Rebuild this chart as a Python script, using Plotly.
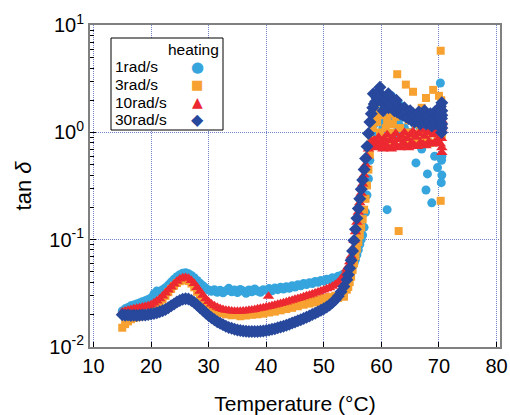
import plotly.graph_objects as go

# ---------------- data ----------------
temps_lo = [15.0, 15.5, 16.0, 16.5, 17.0, 17.5, 18.0, 18.5, 19.0, 19.5,
            20.0, 20.5, 21.0, 21.5, 22.0, 22.5, 23.0, 23.5, 24.0, 24.5,
            25.0, 25.5, 26.0, 26.5, 27.0, 27.5, 28.0, 28.5, 29.0, 29.5,
            30.0, 30.5, 31.0, 31.5, 32.0, 32.5, 33.0, 33.5, 34.0, 34.5,
            35.0, 35.5, 36.0, 36.5, 37.0, 37.5, 38.0, 38.5, 39.0, 39.5,
            40.0, 40.5, 41.0, 41.5, 42.0, 42.5, 43.0, 43.5, 44.0, 44.5,
            45.0, 45.5, 46.0, 46.5, 47.0, 47.5, 48.0, 48.5, 49.0, 49.5,
            50.0, 50.5, 51.0, 51.5, 52.0, 52.5, 53.0, 53.5, 54.0]
temps_hi = [54.25, 54.5, 54.75, 55.0, 55.25, 55.5, 55.75, 56.0, 56.25, 56.5,
            56.75, 57.0, 57.25, 57.5, 57.75, 58.0, 58.25, 58.5, 58.75, 59.0,
            59.25, 59.5, 59.75, 60.0, 60.25, 60.5, 60.75, 61.0, 61.25, 61.5,
            61.75, 62.0, 62.25, 62.5, 62.75, 63.0, 63.25, 63.5, 63.75, 64.0,
            64.25, 64.5, 64.75, 65.0, 65.25, 65.5, 65.75, 66.0, 66.25, 66.5,
            66.75, 67.0, 67.25, 67.5, 67.75, 68.0, 68.25, 68.5, 68.75, 69.0,
            69.25, 69.5, 69.75, 70.0, 70.25, 70.5]

tan_1rad_lo = [0.0215, 0.0225, 0.0232, 0.0240, 0.0245, 0.0250, 0.0255, 0.0262, 0.0268, 0.0275,
               0.0285, 0.0310, 0.0330, 0.0325, 0.0340, 0.0355, 0.0375, 0.0400, 0.0425, 0.0450,
               0.0470, 0.0485, 0.0490, 0.0480, 0.0462, 0.0440, 0.0415, 0.0390, 0.0370, 0.0352,
               0.0338, 0.0328, 0.0340, 0.0322, 0.0335, 0.0318, 0.0332, 0.0350, 0.0325, 0.0338,
               0.0320, 0.0342, 0.0330, 0.0315, 0.0338, 0.0325, 0.0345, 0.0330, 0.0322, 0.0340,
               0.0335, 0.0348, 0.0332, 0.0352, 0.0340, 0.0358, 0.0345, 0.0362, 0.0350, 0.0370,
               0.0360, 0.0378, 0.0370, 0.0388, 0.0380, 0.0395, 0.0388, 0.0405, 0.0398, 0.0415,
               0.0410, 0.0425, 0.0420, 0.0440, 0.0435, 0.0455, 0.0460, 0.0480, 0.0500]
tan_1rad_hi = [0.051, 0.052, 0.054, 0.056, 0.060, 0.065, 0.072, 0.080, 0.090, 0.100,
               0.110, 0.130, 0.180, 0.260, 0.370, 0.550, 0.750, 0.950, 1.20, 0.92,
               1.50, 2.00, 1.30, 1.80, 1.10, 1.60, 1.20, 0.19, 1.40, 1.90,
               2.20, 1.30, 1.60, 1.00, 1.50, 1.20, 1.80, 0.90, 1.40, 1.10,
               1.60, 0.85, 1.30, 1.00, 1.50, 0.80, 1.20, 0.52, 1.40, 0.90,
               1.10, 0.70, 1.30, 0.95, 0.29, 0.41, 1.20, 0.80, 0.22, 1.00,
               0.60, 1.30, 0.47, 0.90, 2.90, 0.40]
extra_1rad_t = [70.4, 70.5, 70.5, 70.45]
extra_1rad_v = [0.34, 0.60, 1.50, 0.55]

tan_3rad_lo = [0.0150, 0.0162, 0.0172, 0.0180, 0.0185, 0.0188, 0.0190, 0.0195, 0.0198, 0.0203,
               0.0210, 0.0222, 0.0238, 0.0256, 0.0276, 0.0298, 0.0322, 0.0346, 0.0370, 0.0392,
               0.0408, 0.0418, 0.0420, 0.0410, 0.0388, 0.0358, 0.0325, 0.0295, 0.0270, 0.0250,
               0.0236, 0.0226, 0.0219, 0.0214, 0.0205, 0.0212, 0.0200, 0.0208, 0.0196, 0.0206,
               0.0198, 0.0192, 0.0204, 0.0195, 0.0206, 0.0198, 0.0210, 0.0200, 0.0212, 0.0203,
               0.0222, 0.0208, 0.0220, 0.0212, 0.0226, 0.0218, 0.0232, 0.0224, 0.0238, 0.0230,
               0.0246, 0.0238, 0.0254, 0.0246, 0.0262, 0.0252, 0.0270, 0.0258, 0.0276, 0.0264,
               0.0284, 0.0272, 0.0290, 0.0278, 0.0298, 0.0285, 0.0305, 0.0292, 0.0340]
tan_3rad_hi = [0.036, 0.040, 0.045, 0.052, 0.060, 0.070, 0.082, 0.095, 0.110, 0.130,
               0.155, 0.190, 0.240, 0.320, 0.450, 0.620, 0.850, 1.10, 1.35, 1.55,
               1.25, 1.90, 1.00, 1.45, 0.90, 1.60, 1.10, 1.30, 0.85, 1.50,
               1.00, 1.20, 0.80, 1.40, 3.50, 0.12, 1.10, 0.90, 1.60, 0.75,
               2.80, 1.00, 1.30, 0.85, 1.50, 2.40, 0.95, 1.20, 0.80, 1.40,
               1.00, 1.70, 0.85, 1.20, 2.10, 0.90, 1.30, 0.80, 1.50, 2.50,
               1.00, 1.30, 0.90, 2.20, 1.40, 1.10]
extra_3rad_t = [70.3, 70.3, 70.4, 70.5, 70.5]
extra_3rad_v = [5.80, 0.23, 2.00, 1.70, 0.95]

tan_10rad_lo = [0.0210, 0.0215, 0.0218, 0.0222, 0.0225, 0.0228, 0.0231, 0.0234, 0.0237, 0.0241,
                0.0246, 0.0255, 0.0266, 0.0280, 0.0297, 0.0316, 0.0337, 0.0360, 0.0385, 0.0408,
                0.0428, 0.0440, 0.0443, 0.0435, 0.0415, 0.0388, 0.0357, 0.0328, 0.0302, 0.0280,
                0.0263, 0.0250, 0.0240, 0.0233, 0.0227, 0.0222, 0.0219, 0.0217, 0.0215, 0.0214,
                0.0214, 0.0214, 0.0215, 0.0216, 0.0218, 0.0220, 0.0222, 0.0225, 0.0228, 0.0231,
                0.0234, 0.0237, 0.0240, 0.0244, 0.0248, 0.0252, 0.0256, 0.0261, 0.0266, 0.0271,
                0.0276, 0.0281, 0.0286, 0.0292, 0.0298, 0.0304, 0.0310, 0.0317, 0.0324, 0.0331,
                0.0338, 0.0346, 0.0355, 0.0366, 0.0380, 0.0398, 0.0425, 0.0465, 0.0530]
tan_10rad_hi = [0.056, 0.062, 0.070, 0.082, 0.098, 0.118, 0.145, 0.180, 0.220, 0.270,
                0.330, 0.400, 0.500, 0.600, 0.700, 0.780, 0.820, 0.760, 0.850, 0.720,
                0.80, 0.90, 0.75, 0.82, 0.70, 0.88, 0.76, 0.95, 0.72, 0.84,
                0.70, 0.90, 0.78, 0.98, 0.74, 0.86, 0.72, 0.92, 0.80, 1.00,
                0.75, 0.88, 0.72, 0.95, 0.80, 1.02, 0.76, 0.90, 0.74, 0.98,
                0.80, 1.05, 0.78, 0.92, 0.75, 1.00, 0.82, 1.08, 0.78, 0.95,
                0.80, 1.05, 0.85, 0.98, 0.78, 1.10]
extra_10rad_t = [40.4, 70.5, 70.5, 70.45, 70.5, 70.5]
extra_10rad_v = [0.0295, 0.65, 0.72, 0.88, 1.20, 1.30]

tan_30rad_lo = [0.0198, 0.0196, 0.0197, 0.0195, 0.0196, 0.0195, 0.0196, 0.0197, 0.0197, 0.0199,
                0.0201, 0.0204, 0.0207, 0.0211, 0.0216, 0.0222, 0.0230, 0.0240, 0.0250, 0.0261,
                0.0270, 0.0277, 0.0280, 0.0278, 0.0270, 0.0258, 0.0245, 0.0231, 0.0218, 0.0206,
                0.0195, 0.0186, 0.0178, 0.0171, 0.0165, 0.0160, 0.0155, 0.0151, 0.0148, 0.0145,
                0.0143, 0.0141, 0.0140, 0.0139, 0.0138, 0.0138, 0.0138, 0.0138, 0.0139, 0.0140,
                0.0141, 0.0143, 0.0145, 0.0147, 0.0150, 0.0152, 0.0155, 0.0158, 0.0162, 0.0166,
                0.0170, 0.0174, 0.0178, 0.0183, 0.0188, 0.0193, 0.0199, 0.0205, 0.0211, 0.0218,
                0.0225, 0.0234, 0.0245, 0.0258, 0.0274, 0.0295, 0.0325, 0.0365, 0.0420]
tan_30rad_hi = [0.047, 0.054, 0.064, 0.078, 0.098, 0.125, 0.158, 0.195, 0.240, 0.295,
                0.360, 0.450, 0.570, 0.740, 0.980, 1.25, 1.50, 1.70, 1.85, 1.95,
                2.10, 2.40, 2.65, 2.20, 1.90, 2.10, 1.80, 2.00, 1.70, 1.90,
                1.75, 2.05, 1.60, 1.80, 1.55, 1.75, 1.50, 1.65, 1.45, 1.70,
                1.40, 1.55, 1.35, 1.60, 1.30, 1.50, 1.25, 1.45, 1.30, 1.55,
                1.20, 1.45, 1.30, 1.60, 1.20, 1.40, 1.25, 1.50, 1.15, 1.35,
                1.55, 1.20, 1.40, 1.25, 1.75, 1.45]
extra_30rad_t = [58.6, 59.2, 60.3, 61.2, 62.6, 70.45, 70.5, 70.5, 70.45, 70.5, 70.5]
extra_30rad_v = [2.30, 2.20, 1.60, 2.30, 2.00, 1.00, 1.10, 1.20, 1.35, 1.60, 1.90]

series_names = ["1rad/s", "3rad/s", "10rad/s", "30rad/s"]
legend_title = "heating"
series_t = [temps_lo + temps_hi + extra_1rad_t,
            temps_lo + temps_hi + extra_3rad_t,
            temps_lo + temps_hi + extra_10rad_t,
            temps_lo + temps_hi + extra_30rad_t]
series_v = [tan_1rad_lo + tan_1rad_hi + extra_1rad_v,
            tan_3rad_lo + tan_3rad_hi + extra_3rad_v,
            tan_10rad_lo + tan_10rad_hi + extra_10rad_v,
            tan_30rad_lo + tan_30rad_hi + extra_30rad_v]

y_tickvals = [0.01, 0.1, 1, 10]
y_ticktext = ["10<sup>-2</sup>", "10<sup>-1</sup>", "10<sup>0</sup>", "10<sup>1</sup>"]
y_minor_tickvals = [0.02, 0.03, 0.04, 0.05, 0.06, 0.07, 0.08, 0.09,
                    0.2, 0.3, 0.4, 0.5, 0.6, 0.7, 0.8, 0.9,
                    2, 3, 4, 5, 6, 7, 8, 9]
x_tickvals = [10, 20, 30, 40, 50, 60, 70, 80]

# ---------------- styling ----------------
colors = ["#36a5de", "#f7a131", "#ec2831", "#27489c"]
symbols = ["circle", "square", "triangle-up", "diamond"]
sizes = [9, 8, 10, 10]
legend_glyphs = ["●", "■", "▲", "◆"]
legend_glyph_sizes = [15, 13, 14, 16]

FONT = "Liberation Sans, Arial, Helvetica, sans-serif"

fig = go.Figure()
for name, t, v, c, s, sz in zip(series_names, series_t, series_v, colors, symbols, sizes):
    fig.add_trace(go.Scatter(
        x=t, y=v, mode="markers", name=name, showlegend=False,
        marker=dict(color=c, symbol=s, size=sz, line=dict(width=0)),
    ))

# ---- legend box drawn as shape + text (labels left, symbols right, as in the reference)
PLOT_L, PLOT_R, PLOT_T, PLOT_B = 90, 500, 25, 347
def px_x(p):
    return (p - PLOT_L) / (PLOT_R - PLOT_L)
def px_y(p):
    return (PLOT_B - p) / (PLOT_B - PLOT_T)

fig.add_shape(type="rect", xref="paper", yref="paper",
              x0=px_x(111), x1=px_x(223), y0=px_y(130), y1=px_y(38),
              line=dict(color="black", width=1), fillcolor="white", layer="above")
annotations = [dict(xref="paper", yref="paper", x=px_x(221), y=px_y(49.5),
                    xanchor="right", yanchor="middle", showarrow=False,
                    text=legend_title, font=dict(size=15.5, family=FONT, color="black"))]
row_y = [66.8, 84.5, 102.2, 119.9]
for name, c, g, gs, ry in zip(series_names, colors, legend_glyphs, legend_glyph_sizes, row_y):
    annotations.append(dict(xref="paper", yref="paper", x=px_x(113), y=px_y(ry),
                            xanchor="left", yanchor="middle", showarrow=False,
                            text=name, font=dict(size=15.5, family=FONT, color="black")))
    annotations.append(dict(xref="paper", yref="paper", x=px_x(197), y=px_y(ry),
                            xanchor="center", yanchor="middle", showarrow=False,
                            text=g, font=dict(size=gs, family="DejaVu Sans", color=c)))

grid_color = "#6f80cc"
fig.update_layout(
    width=510, height=415,
    margin=dict(l=90, r=10, t=25, b=68),
    paper_bgcolor="white", plot_bgcolor="white",
    font=dict(family=FONT, color="black", size=18),
    showlegend=False,
    annotations=annotations,
    xaxis=dict(
        range=[9.4, 80.6], tickmode="array", tickvals=x_tickvals,
        ticks="inside", ticklen=5, tickcolor="black", tickwidth=1,
        showline=True, mirror=True, linecolor="#808080", linewidth=2,
        showgrid=True, gridcolor=grid_color, gridwidth=1, griddash="1px,1px",
        zeroline=False, tickfont=dict(size=20), automargin=False,
        title=dict(text="Temperature (°C)", font=dict(size=21), standoff=22),
    ),
    yaxis=dict(
        type="log", range=[-2.004, 1.004], tickmode="array",
        tickvals=y_tickvals, ticktext=y_ticktext,
        ticks="inside", ticklen=6, tickcolor="black", tickwidth=1,
        minor=dict(tickmode="array", tickvals=y_minor_tickvals, ticks="inside",
                   ticklen=4, tickcolor="black", tickwidth=1, showgrid=False),
        showline=True, mirror=True, linecolor="#808080", linewidth=2,
        showgrid=True, gridcolor=grid_color, gridwidth=1, griddash="1px,1px",
        zeroline=False, tickfont=dict(size=20), automargin=False,
        title=dict(text="tan <i>δ</i>", font=dict(size=22), standoff=12),
    ),
)

fig.write_html("out.html", config={"displayModeBar": False},
               post_script="document.body.style.margin='0';document.body.style.overflow='hidden';")
